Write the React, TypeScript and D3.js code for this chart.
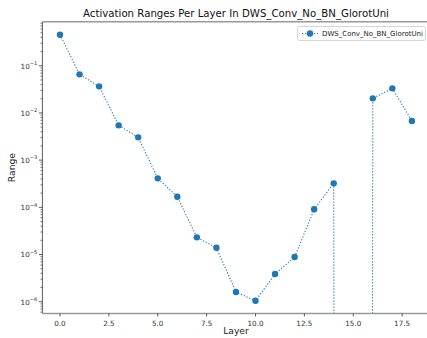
import React, { useEffect, useRef } from 'react';
import * as d3 from 'd3';

const layers = [0, 1, 2, 3, 4, 5, 6, 7, 8, 9, 10, 11, 12, 13, 14, 15, 16, 17, 18];
const ranges = [
  0.454, 0.0658, 0.0366, 0.00546, 0.00304, 0.000411, 0.000168, 2.31e-5, 1.39e-5,
  1.61e-6, 1.05e-6, 3.86e-6, 8.85e-6, 9.08e-5, 3.22e-4, 0, 0.0204, 0.0332, 0.00673,
];
const xTicks = [0, 2.5, 5, 7.5, 10, 12.5, 15, 17.5];
const yDecades = [-6, -5, -4, -3, -2, -1];
const seriesName = 'DWS_Conv_No_BN_GlorotUni';
const title = 'Activation Ranges Per Layer In DWS_Conv_No_BN_GlorotUni';

const W = 427;
const H = 338;
const color = '#1f77b4';
const font = 'DejaVu Sans, sans-serif';

const App = () => {
  const svgRef = useRef(null);

  useEffect(() => {
    const svg = d3.select(svgRef.current);
    svg.selectAll('*').remove();

    const left = 42.4;
    const top = 21.7;
    const bottom = 313.5;
    const right = 429.5;

    const x = d3.scaleLinear().domain([-0.9, 18.9]).range([left, right]);
    const y = d3.scaleLog().domain([Math.pow(10, -6.25), Math.pow(10, -0.066)]).range([bottom, top]);

    // matplotlib clips non-positive values to a tiny number on log axes
    const clipVal = (v) => (v > 0 ? v : 1e-300);

    svg.append('rect').attr('width', W).attr('height', H).attr('fill', '#fff');

    svg.append('clipPath').attr('id', 'plotclip')
      .append('rect').attr('x', left).attr('y', top).attr('width', right - left).attr('height', bottom - top);

    const plot = svg.append('g').attr('clip-path', 'url(#plotclip)');
    const pts = layers.map((l, i) => [l, ranges[i]]);

    const line = d3.line().x(d => x(d[0])).y(d => y(clipVal(d[1])));
    plot.append('path')
      .datum(pts)
      .attr('d', line)
      .attr('fill', 'none')
      .attr('stroke', color)
      .attr('stroke-width', 1.1)
      .attr('stroke-dasharray', '1.2,1.8');

    plot.selectAll('circle')
      .data(pts.filter(d => d[1] > 0))
      .enter()
      .append('circle')
      .attr('cx', d => x(d[0]))
      .attr('cy', d => y(d[1]))
      .attr('r', 3.2)
      .attr('fill', color);

    // spines
    const spine = '#333';
    svg.append('line').attr('x1', left).attr('x2', left).attr('y1', top).attr('y2', bottom)
      .attr('stroke', spine).attr('stroke-width', 0.8);
    svg.append('line').attr('x1', left).attr('x2', right).attr('y1', bottom).attr('y2', bottom)
      .attr('stroke', '#999').attr('stroke-width', 1.6);
    svg.append('line').attr('x1', left).attr('x2', right).attr('y1', top).attr('y2', top)
      .attr('stroke', '#999').attr('stroke-width', 1.6);

    // x ticks
    const xt = svg.append('g');
    xTicks.forEach(t => {
      xt.append('line').attr('x1', x(t)).attr('x2', x(t)).attr('y1', bottom).attr('y2', bottom + 3)
        .attr('stroke', '#333').attr('stroke-width', 0.8);
      xt.append('text').attr('x', x(t)).attr('y', bottom + 12.5)
        .attr('text-anchor', 'middle').attr('font-family', font).attr('font-size', 7.2).attr('fill', '#333')
        .text(t.toFixed(1));
    });

    // y ticks
    const yt = svg.append('g');
    for (let e = -7; e <= 0; e++) {
      for (let m = 1; m <= 9; m++) {
        const v = m * Math.pow(10, e);
        const py = y(v);
        if (py < top - 0.1 || py > bottom + 0.1) continue;
        yt.append('line').attr('x1', left).attr('x2', left - (m === 1 ? 3.5 : 2)).attr('y1', py).attr('y2', py)
          .attr('stroke', '#333').attr('stroke-width', m === 1 ? 0.8 : 0.6);
      }
    }
    yDecades.forEach(e => {
      const t = yt.append('text').attr('x', left - 5).attr('y', y(Math.pow(10, e)) + 2.8)
        .attr('text-anchor', 'end').attr('font-family', font).attr('font-size', 7.2).attr('fill', '#333');
      t.append('tspan').text('10');
      t.append('tspan').attr('dy', -3.5).attr('font-size', 5.2).text('\u2212' + Math.abs(e));
    });

    // axis labels
    svg.append('text').attr('x', 236).attr('y', 334)
      .attr('text-anchor', 'middle').attr('font-family', font).attr('font-size', 9.2).attr('fill', '#222')
      .text('Layer');
    svg.append('text').attr('transform', `translate(15, ${(top + bottom) / 2}) rotate(-90)`)
      .attr('text-anchor', 'middle').attr('font-family', font).attr('font-size', 9.2).attr('fill', '#222')
      .text('Range');

    // title
    svg.append('text').attr('x', 236).attr('y', 17)
      .attr('text-anchor', 'middle').attr('font-family', font).attr('font-size', 10.2).attr('fill', '#111')
      .text(title);

    // legend
    const lg = svg.append('g');
    lg.append('rect').attr('x', 297.5).attr('y', 26.5).attr('width', 128).attr('height', 14)
      .attr('rx', 2).attr('fill', '#fff').attr('stroke', '#ccc').attr('stroke-width', 0.8);
    lg.append('line').attr('x1', 302).attr('x2', 318).attr('y1', 33.5).attr('y2', 33.5)
      .attr('stroke', color).attr('stroke-width', 1.1).attr('stroke-dasharray', '1.2,1.8');
    lg.append('circle').attr('cx', 310).attr('cy', 33.5).attr('r', 3.2).attr('fill', color);
    lg.append('text').attr('x', 322).attr('y', 36).attr('font-family', font).attr('font-size', 7)
      .attr('fill', '#222').text(seriesName);
  }, []);

  return (
    <svg ref={svgRef} width={W} height={H} style={{ position: 'fixed', left: 0, top: 0 }}></svg>
  );
};

export default App;
